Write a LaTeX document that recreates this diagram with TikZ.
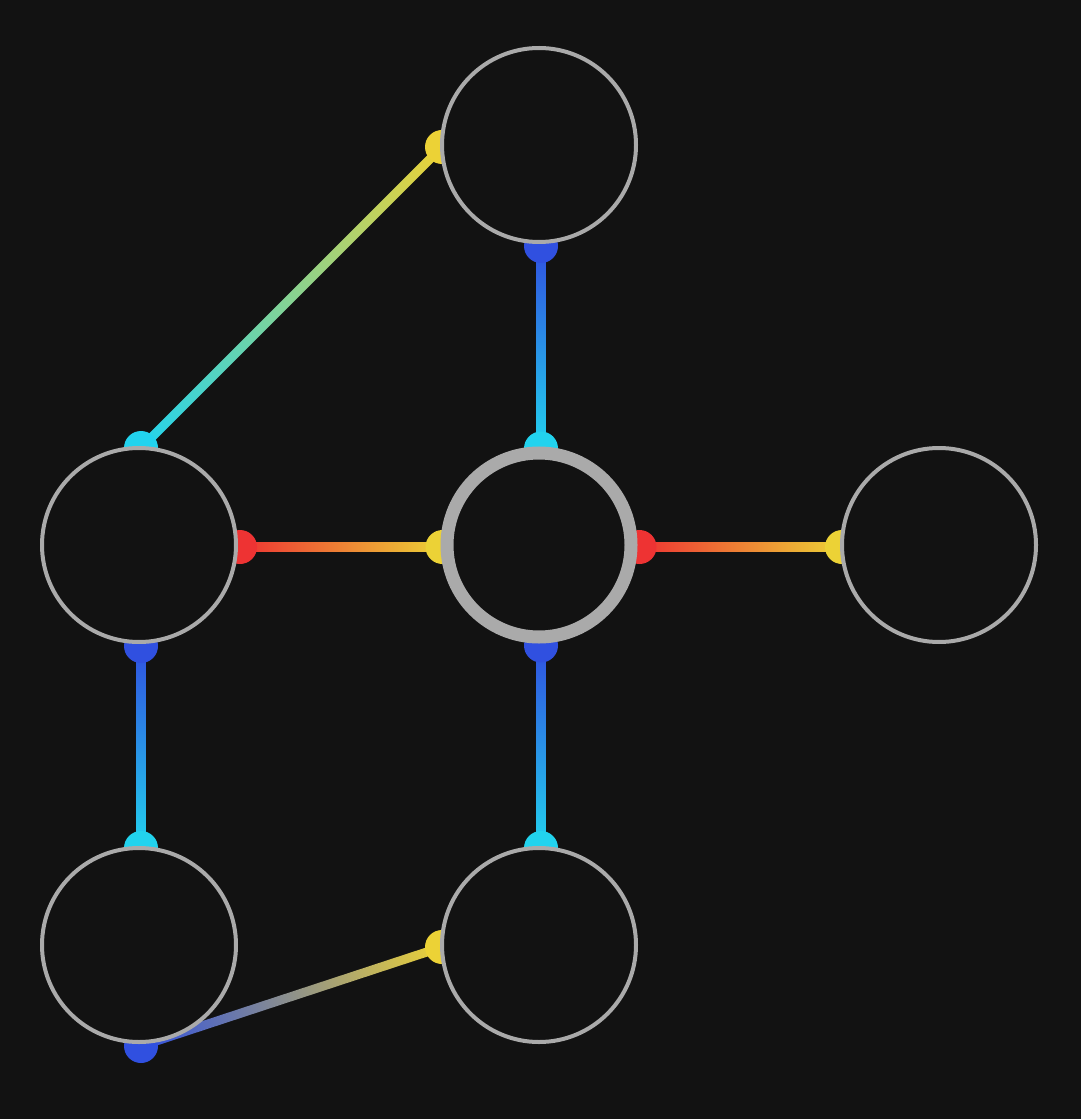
\documentclass[tikz,border=0pt]{standalone}
\usetikzlibrary{calc}
\definecolor{bgc}{HTML}{121212}
\definecolor{ring}{HTML}{AAAAAA}
\definecolor{pblue}{HTML}{3050E0}
\definecolor{pcyan}{HTML}{22D3EE}
\definecolor{pyellow}{HTML}{ECD236}
\definecolor{pred}{HTML}{EE3333}
\pgfdeclarelayer{bg}\pgfdeclarelayer{mid}\pgfsetlayers{bg,mid,main}
\tikzset{
 vnode/.style={circle, draw=ring, fill=bgc, line width=3pt, minimum size=145.5pt, inner sep=0pt},
 hubnode/.style={circle, draw=ring, fill=bgc, line width=9.75pt, minimum size=138pt, inner sep=0pt},
}
\newcommand\gradedge[4]{%
 \path let \p1=(#1), \p2=(#2),
   \n1={atan2(\y2-\y1,\x2-\x1)}, \n2={veclen(\x2-\x1,\y2-\y1)} in
   \pgfextra{\xdef\gdang{\n1}\xdef\gdlen{\n2}};
 \begin{scope}[transform canvas={shift={(#1)}, rotate=\gdang}]
   \shade[left color=#3, right color=#4] (0pt,-3.375pt) rectangle (\gdlen,3.375pt);
 \end{scope}
 \fill[#3] (#1) circle[radius=12.75pt];
 \fill[#4] (#2) circle[radius=12.75pt];
}
\begin{document}
\begin{tikzpicture}[x=0.75pt, y=0.75pt]
\begin{pgfonlayer}{bg}
\fill[bgc] (0,0) rectangle (1081,-1119);
\end{pgfonlayer}
\useasboundingbox (0,0) rectangle (1081,-1119);
\node[vnode] (top) at (539,-145) {};
\node[vnode] (left) at (139,-545) {};
\node[hubnode] (hub) at (539,-545) {};
\node[vnode] (right) at (939,-545) {};
\node[vnode] (bl) at (139,-945) {};
\node[vnode] (bc) at (539,-945) {};
\coordinate (topS) at ($(top.south)+(2,-2)$);
\coordinate (topW) at ($(top.west)+(2,-2)$);
\coordinate (leftN) at ($(left.north)+(2,-2)$);
\coordinate (leftE) at ($(left.east)+(2,-2)$);
\coordinate (leftS) at ($(left.south)+(2,-2)$);
\coordinate (hubN) at ($(hub.north)+(2,-2)$);
\coordinate (hubW) at ($(hub.west)+(2,-2)$);
\coordinate (hubE) at ($(hub.east)+(2,-2)$);
\coordinate (hubS) at ($(hub.south)+(2,-2)$);
\coordinate (rightW) at ($(right.west)+(2,-2)$);
\coordinate (blN) at ($(bl.north)+(2,-2)$);
\coordinate (blS) at ($(bl.south)+(2,-2)$);
\coordinate (bcN) at ($(bc.north)+(2,-2)$);
\coordinate (bcW) at ($(bc.west)+(2,-2)$);
\begin{pgfonlayer}{mid}
\gradedge{topS}{hubN}{pblue}{pcyan}
\gradedge{topW}{leftN}{pyellow}{pcyan}
\gradedge{leftE}{hubW}{pred}{pyellow}
\gradedge{hubE}{rightW}{pred}{pyellow}
\gradedge{leftS}{blN}{pblue}{pcyan}
\gradedge{hubS}{bcN}{pblue}{pcyan}
\gradedge{blS}{bcW}{pblue}{pyellow}
\end{pgfonlayer}
\end{tikzpicture}
\end{document}
